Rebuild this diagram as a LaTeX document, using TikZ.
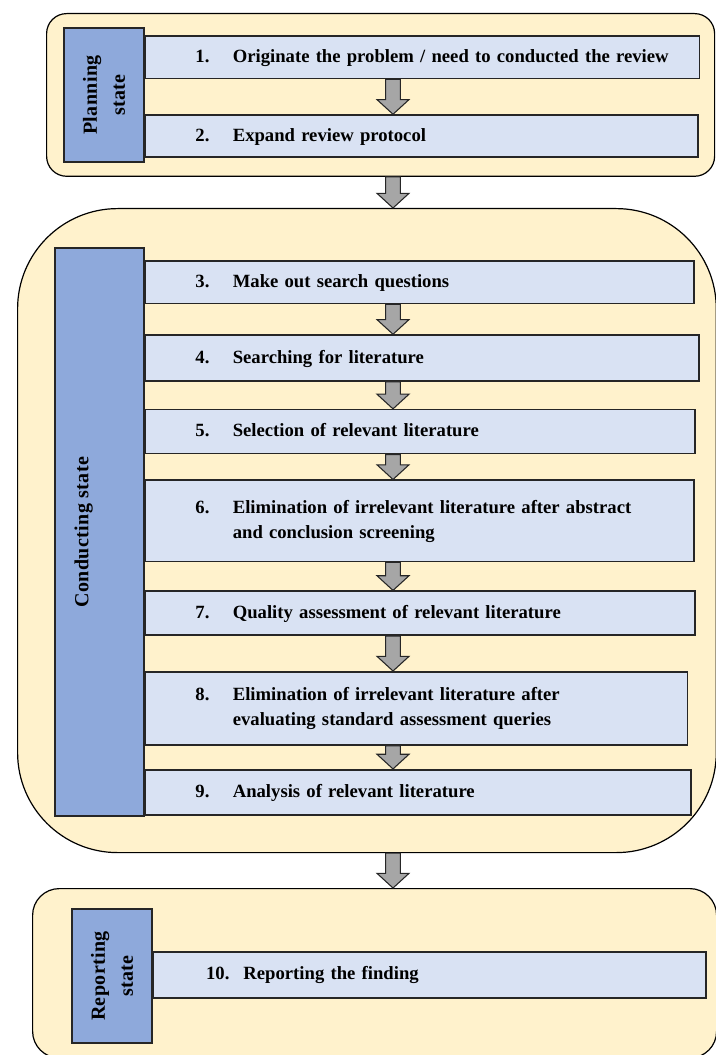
\documentclass[tikz,border=0pt]{standalone}
\usepackage{fontspec}
\setmainfont{Liberation Serif}
\newfontfamily\statefont[LetterSpace=2]{Liberation Serif}
\usepackage{xcolor}
\usetikzlibrary{positioning, calc}

\definecolor{stateyellow}{HTML}{FFF2CC}
\definecolor{stateblue}{HTML}{8EA9DB}
\definecolor{steplight}{HTML}{D9E2F3}
\definecolor{arrowgray}{HTML}{A6A6A6}
\definecolor{edgedark}{HTML}{262626}

% number and text of one step, second line hangs under the text
\newcommand{\steptext}[2]{\hspace*{38pt}\makebox[28pt][l]{#1}\begin{tabular}[t]{@{}l@{}}#2\end{tabular}}

% grey block arrow between two boxes, on the arrow axis
\newcommand{\flowdown}[2]{%
  \draw[blockarrow] let \p1=(#1.south -| axis), \p2=(#2.north -| axis) in
    (\x1-5.5pt,\y1) -- (\x1-5.5pt,\y2+11pt) -- (\x1-12pt,\y2+11pt) -- (\x2,\y2)
    -- (\x1+12pt,\y2+11pt) -- (\x1+5.5pt,\y2+11pt) -- (\x1+5.5pt,\y1) -- cycle;}

\begin{document}
\begin{tikzpicture}[
  x=0.75pt, y=-0.75pt,
  container/.style={draw=black, line width=0.9pt, fill=stateyellow, anchor=north west, inner sep=0pt},
  statebox/.style={draw=edgedark, line width=1pt, fill=stateblue, rotate=90, align=center,
    font=\statefont\bfseries\fontsize{15pt}{21pt}\selectfont},
  stepbox/.style={draw=edgedark, line width=1.2pt, fill=steplight, inner xsep=0pt,
    text width=#1, align=left, font=\bfseries\fontsize{14pt}{18.75pt}\selectfont},
  stepbox/.default=412pt,
  blockarrow/.style={draw=edgedark, line width=0.8pt, fill=arrowgray, line join=miter}
]
  \useasboundingbox (0,0) rectangle (715,1055);
  \coordinate (axis) at (393,0);

  % planning
  \node[container, rounded corners=15pt, minimum width=501pt, minimum height=122pt] (planning) at (46,13) {};
  \node[statebox, minimum width=100.5pt, minimum height=60pt] (planlabel) at (104,95) {Planning\\state};
  \node[stepbox=416pt, minimum height=32pt, anchor=north west] (s1) at (144,35)
    {\steptext{1.}{Originate the problem / need to conducted the review}};
  \node[stepbox=415pt, minimum height=31.5pt, below=26.25pt of s1.south west, anchor=north west] (s2)
    {\steptext{2.}{Expand review protocol}};

  % conducting
  \node[container, rounded corners=75pt, minimum width=524pt, minimum height=483pt] (conducting) at (17,208) {};
  \node[statebox, minimum width=426pt, minimum height=66.75pt, text depth=27pt] (condlabel) at (99.5,532) {Conducting state};
  \node[stepbox, minimum height=32pt, anchor=north west] (s3) at (144,260)
    {\steptext{3.}{Make out search questions}};
  \node[stepbox=415.5pt, minimum height=34.5pt, below=22.5pt of s3.south west, anchor=north west] (s4)
    {\steptext{4.}{Searching for literature}};
  \node[stepbox=412.5pt, minimum height=33pt, below=20.25pt of s4.south west, anchor=north west] (s5)
    {\steptext{5.}{Selection of relevant literature}};
  \node[stepbox, minimum height=61pt, below=18.75pt of s5.south west, anchor=north west] (s6)
    {\steptext{6.}{Elimination of irrelevant literature after abstract\\and conclusion screening}};
  \node[stepbox=412.5pt, minimum height=33pt, below=21pt of s6.south west, anchor=north west] (s7)
    {\steptext{7.}{Quality assessment of relevant literature}};
  \node[stepbox=407pt, minimum height=55pt, below=26.25pt of s7.south west, anchor=north west] (s8)
    {\steptext{8.}{Elimination of irrelevant literature after\\evaluating standard assessment queries}};
  \node[stepbox=409.5pt, minimum height=34pt, below=17.25pt of s8.south west, anchor=north west] (s9)
    {\steptext{9.}{Analysis of relevant literature}};

  % reporting
  \node[container, rounded corners=20pt, minimum width=513pt, minimum height=127pt] (reporting) at (32,888) {};
  \node[statebox, minimum width=100.5pt, minimum height=60pt] (replabel) at (112,976) {Reporting\\state};
  \node[stepbox=415pt, minimum height=34.5pt, anchor=north west] (s10) at (152,951)
    {\hspace*{2pt}\steptext{10.}{Reporting the finding}};

  \flowdown{s1}{s2}
  \flowdown{planning}{conducting}
  \flowdown{s3}{s4}
  \flowdown{s4}{s5}
  \flowdown{s5}{s6}
  \flowdown{s6}{s7}
  \flowdown{s7}{s8}
  \flowdown{s8}{s9}
  \flowdown{conducting}{reporting}
\end{tikzpicture}
\end{document}
